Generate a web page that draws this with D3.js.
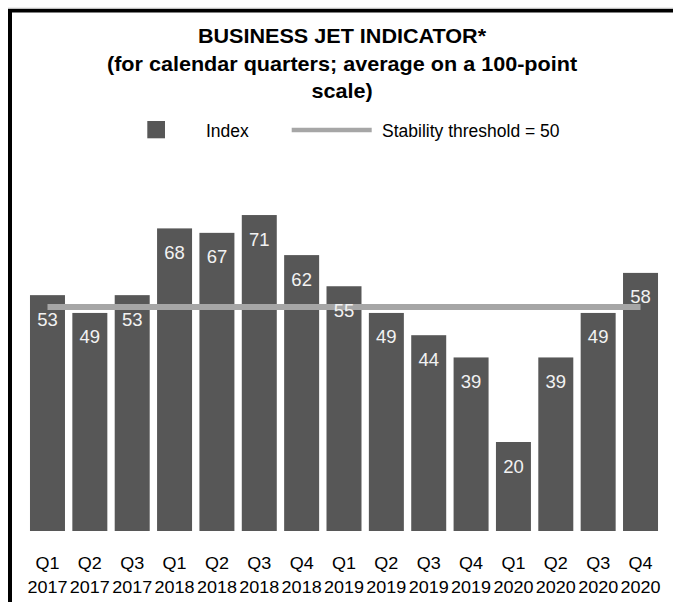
<!DOCTYPE html>
<html>
<head>
<meta charset="utf-8">
<script src="https://cdn.jsdelivr.net/npm/d3@7"></script>
<style>
  body { margin: 0; background: #fff; }
  svg { display: block; font-family: Arial, "Liberation Sans", sans-serif; }
</style>
</head>
<body>
<div id="wrapper"></div>
<script>
const categories = ["Q1 2017", "Q2 2017", "Q3 2017", "Q1 2018", "Q2 2018", "Q3 2018", "Q4 2018",
  "Q1 2019", "Q2 2019", "Q3 2019", "Q4 2019", "Q1 2020", "Q2 2020", "Q3 2020", "Q4 2020"];
const indexValues = [53, 49, 53, 68, 67, 71, 62, 55, 49, 44, 39, 20, 39, 49, 58];
const threshold = 50;
const titleLines = ["BUSINESS JET INDICATOR*", "(for calendar quarters; average on a 100-point", "scale)"];

const width = 673, height = 602;
const stretch = 1.08; // title/tick text in the reference is a bit wider than plain Arial

const svg = d3.select("#wrapper").append("svg")
  .attr("width", width)
  .attr("height", height);

// frame (only top and left edges are visible)
svg.append("line").attr("x1", 8).attr("x2", width).attr("y1", 8.3).attr("y2", 8.3)
  .attr("stroke", "#b0b0b0").attr("stroke-width", 1);
svg.append("line").attr("x1", 8).attr("x2", width).attr("y1", 10.7).attr("y2", 10.7)
  .attr("stroke", "#000").attr("stroke-width", 3.6);
svg.append("line").attr("x1", 10).attr("x2", 10).attr("y1", 9).attr("y2", height)
  .attr("stroke", "#000").attr("stroke-width", 4);

const x = d3.scaleBand()
  .domain(categories)
  .range([26.3, 661.7])
  .paddingInner(0.174)
  .paddingOuter(0.087);

const y = d3.scaleLinear()
  .domain([0, 100])
  .range([531, 86]);

// title
svg.append("g").selectAll("text")
  .data(titleLines)
  .join("text")
  .attr("transform", (d, i) => `translate(342,${43.3 + i * 27.2}) scale(${stretch},1)`)
  .attr("text-anchor", "middle")
  .attr("font-size", 20)
  .attr("font-weight", "bold")
  .attr("fill", "#000")
  .text(d => d);

// legend
const legend = svg.append("g");
legend.append("rect")
  .attr("x", 147.3).attr("y", 121).attr("width", 17.7).attr("height", 17.3)
  .attr("fill", "#575757");
legend.append("text")
  .attr("x", 206).attr("y", 136.7)
  .attr("font-size", 17.5).attr("fill", "#000")
  .text("Index");
legend.append("line")
  .attr("x1", 291.7).attr("x2", 371.7).attr("y1", 130).attr("y2", 130)
  .attr("stroke", "#a6a6a6").attr("stroke-width", 4.7);
legend.append("text")
  .attr("x", 382).attr("y", 136.7)
  .attr("font-size", 17.5).attr("fill", "#000")
  .text("Stability threshold = " + threshold);

// bars
svg.append("g")
  .selectAll("rect")
  .data(indexValues)
  .join("rect")
  .attr("x", (d, i) => x(categories[i]))
  .attr("y", d => y(d))
  .attr("width", x.bandwidth())
  .attr("height", d => y(0) - y(d))
  .attr("fill", "#575757");

// stability threshold line
const first = categories[0], last = categories[categories.length - 1];
svg.append("line")
  .attr("x1", x(first) + x.bandwidth() / 2)
  .attr("x2", x(last) + x.bandwidth() / 2)
  .attr("y1", y(threshold) - 1.5)
  .attr("y2", y(threshold) - 1.5)
  .attr("stroke", "#a6a6a6")
  .attr("stroke-width", 6);

// value labels
svg.append("g")
  .selectAll("text")
  .data(indexValues)
  .join("text")
  .attr("x", (d, i) => x(categories[i]) + x.bandwidth() / 2)
  .attr("y", d => y(d) + 30.5)
  .attr("text-anchor", "middle")
  .attr("font-size", 18.5)
  .attr("fill", "#f2f2f2")
  .text(d => d);

// category axis
const axis = svg.append("g")
  .attr("transform", `translate(0,${y(0)})`)
  .call(d3.axisBottom(x).tickSize(0).tickPadding(0));
axis.select(".domain").remove();
axis.selectAll(".tick text")
  .attr("font-size", 17)
  .attr("font-family", "Arial, 'Liberation Sans', sans-serif")
  .attr("fill", "#000")
  .attr("transform", "scale(1.06,1)")
  .attr("y", 0).attr("dy", null)
  .each(function (d) {
    const parts = d.split(" ");
    const t = d3.select(this).text(null);
    t.append("tspan").attr("x", 0).attr("y", 38.3).text(parts[0]);
    t.append("tspan").attr("x", 0).attr("y", 61.7).text(parts[1]);
  });
</script>
</body>
</html>
